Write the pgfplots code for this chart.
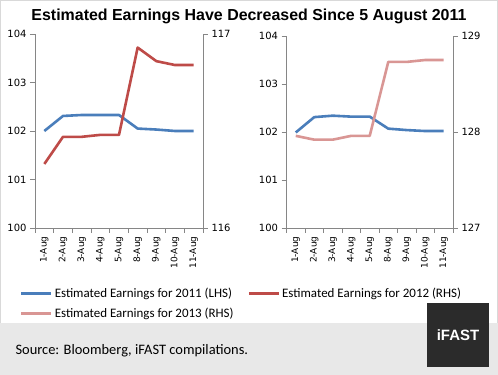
\documentclass[border=0pt]{standalone}
\usepackage{pgfplots}
\pgfplotsset{compat=1.18}
\usepackage{pgfplotstable}
\usepackage{fontspec}
\setmainfont{DejaVu Sans}
\newfontfamily\arialf{Liberation Sans}
\newfontfamily\calib{Carlito}
\definecolor{c11}{HTML}{4A7EBB}
\definecolor{c12}{HTML}{BE4B48}
\definecolor{c13}{HTML}{D99694}
\definecolor{axgray}{HTML}{868686}
\definecolor{footgray}{HTML}{E8E8E8}
\definecolor{bordgray}{HTML}{D9D9D9}
\definecolor{boxdark}{HTML}{2B2B2B}

\pgfplotstableread{
x y
0 102.00
1 102.31
2 102.33
3 102.33
4 102.33
5 102.05
6 102.03
7 102.00
8 102.00
}\tLa
\pgfplotstableread{
x y
0 116.33
1 116.47
2 116.47
3 116.48
4 116.48
5 116.93
6 116.86
7 116.84
8 116.84
}\tLb
\pgfplotstableread{
x y
0 101.99
1 102.31
2 102.34
3 102.32
4 102.32
5 102.07
6 102.04
7 102.02
8 102.02
}\tRa
\pgfplotstableread{
x y
0 127.96
1 127.92
2 127.92
3 127.96
4 127.96
5 128.73
6 128.73
7 128.75
8 128.75
}\tRb

\pgfplotsset{
  base/.style={scale only axis, width=168bp, height=194bp, xmin=-0.5, xmax=8.5,
    axis line style={axgray, line width=0.8bp},
    tick style={axgray, line width=0.8bp},
    major tick length=5bp, tick align=outside,
    ticklabel style={font=\fontsize{10}{12}\selectfont, text=black},
    /pgf/number format/assume math mode=true,
    clip=false,
  },
  lhs/.style={base, axis y line*=left, axis x line*=bottom,
    ymin=100, ymax=104, ytick={100,101,102,103,104},
    xtick={-0.5,0.5,...,8.5}, x tick label as interval,
    xticklabels={1-Aug,2-Aug,3-Aug,4-Aug,5-Aug,8-Aug,9-Aug,10-Aug,11-Aug},
    xticklabel style={rotate=90, anchor=east, font=\fontsize{9}{11}\selectfont},
  },
  rhs/.style={base, axis y line*=right, axis x line=none},
  ser/.style={line width=2.6bp, line join=round},
}

\begin{document}
\begin{tikzpicture}[x=1bp,y=1bp]
\fill[white] (0bp,0bp) rectangle (498bp,375bp);
\fill[footgray] (0bp,0bp) rectangle (498bp,52bp);
\draw[bordgray, line width=0.8bp] (0.4bp,52bp) -- (0.4bp,374.6bp) -- (497.6bp,374.6bp) -- (497.6bp,52bp);
\node[font=\arialf\bfseries\fontsize{16}{19}\selectfont, anchor=center] at (249bp,359bp) {Estimated Earnings Have Decreased Since 5 August 2011};

% Left chart
\begin{axis}[lhs, at={(35bp,147bp)}, anchor=south west]
\addplot[ser, c11] table {\tLa};
\end{axis}
\begin{axis}[rhs, at={(35bp,147bp)}, anchor=south west, ymin=116, ymax=117, ytick={116,117}]
\addplot[ser, c12] table {\tLb};
\end{axis}

% Right chart
\begin{axis}[lhs, at={(286.5bp,147bp)}, anchor=south west, height=192bp, width=166.5bp]
\addplot[ser, c11] table {\tRa};
\end{axis}
\begin{axis}[rhs, at={(286.5bp,147bp)}, anchor=south west, height=192bp, width=166.5bp, ymin=127, ymax=129, ytick={127,128,129}]
\addplot[ser, c13] table {\tRb};
\end{axis}

% Legend
\begin{axis}[hide axis, scale only axis, width=498bp, height=375bp, at={(0bp,0bp)}, anchor=south west,
  xmin=0, xmax=1, ymin=0, ymax=1,
  legend style={at={(20/498,89/375)}, anchor=north west, draw=none, fill=none,
    font=\calib\fontsize{13}{15}\selectfont, legend columns=2,
    row sep=5bp, inner sep=0pt,
    /tikz/every even column/.append style={column sep=12bp}},
  legend cell align=left,
  legend image code/.code={\draw[#1, line width=2.6bp] (0bp,0bp) -- (30bp,0bp);}]
\addlegendimage{c11}
\addlegendentry{Estimated Earnings for 2011 (LHS)}
\addlegendimage{c12}
\addlegendentry{Estimated Earnings for 2012 (RHS)}
\addlegendimage{c13}
\addlegendentry{Estimated Earnings for 2013 (RHS)}
\end{axis}

% Footer
\node[font=\calib\fontsize{14.5}{17}\selectfont, anchor=west] at (12bp,24bp) {Source: Bloomberg, iFAST compilations.};
\fill[boxdark] (427bp,8bp) rectangle (489bp,72bp);
\node[font=\arialf\bfseries\fontsize{15}{18}\selectfont, text=white] at (458bp,40bp) {iFAST};
\end{tikzpicture}
\end{document}
